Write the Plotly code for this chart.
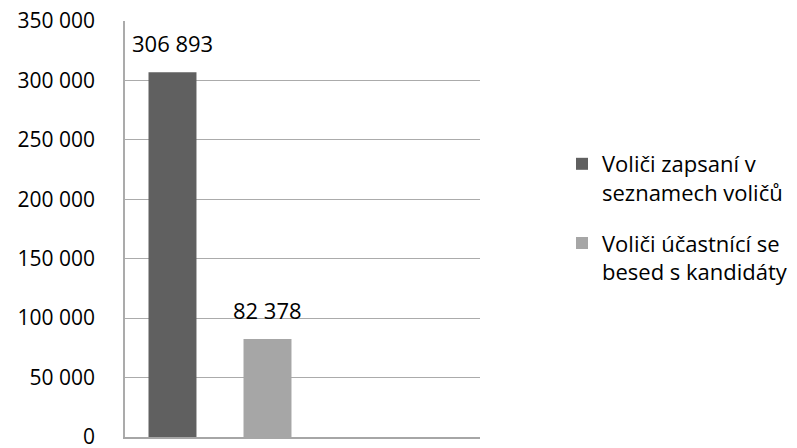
import plotly.graph_objects as go

series_names = ["Voliči zapsaní v<br>seznamech voličů", "Voliči účastnící se<br>besed s kandidáty"]
values = [306893, 82378]
colors = ["#606060", "#a6a6a6"]
positions = [0, 1]
tick_values = [0, 50000, 100000, 150000, 200000, 250000, 300000, 350000]

FONT = "Open Sans"

fig = go.Figure()
for i, (n, v, c, p) in enumerate(zip(series_names, values, colors, positions)):
    fig.add_trace(go.Bar(
        x=[p], y=[v], name=n, marker=dict(color=c, line=dict(width=0)),
        width=0.505, legendgroup=f"g{i}",
    ))
    fig.add_annotation(
        x=p, y=v, text=f"{v:,}".replace(",", " "), showarrow=False,
        yshift=29, yanchor="middle", xanchor="center",
        font=dict(family=FONT, size=22, color="#000000"),
    )

fig.update_layout(
    width=797, height=448,
    margin=dict(l=125, r=317, t=21, b=11, autoexpand=False),
    paper_bgcolor="white", plot_bgcolor="white",
    separators=", ",
    barmode="overlay",
    showlegend=True,
    legend=dict(
        x=562 / 797, xref="container", xanchor="left",
        y=1 - 143 / 448, yref="container", yanchor="top",
        font=dict(family=FONT, size=22, color="#000000"),
        tracegroupgap=19, itemwidth=30, valign="top",
        bgcolor="rgba(0,0,0,0)",
    ),
    font=dict(family=FONT, size=22, color="#000000"),
)
fig.update_xaxes(
    range=[-0.5, 3.237], showticklabels=False, showgrid=False, zeroline=False,
    showline=True, linecolor="#a6a6a6", linewidth=1.5, ticks="", automargin=False,
)
fig.update_yaxes(
    range=[0, 350000], tickvals=tick_values,
    tickformat=",d", showgrid=True, gridcolor="#ababab", gridwidth=1.2,
    zeroline=False, showline=True, linecolor="#ababab", linewidth=1.5,
    ticks="", ticklabelstandoff=24, ticklabeloverflow="allow", automargin=False,
    tickfont=dict(family=FONT, size=21, color="#000000"),
)

fig.write_html("out.html", config={"displayModeBar": False},
               post_script="document.body.style.margin='0';")
